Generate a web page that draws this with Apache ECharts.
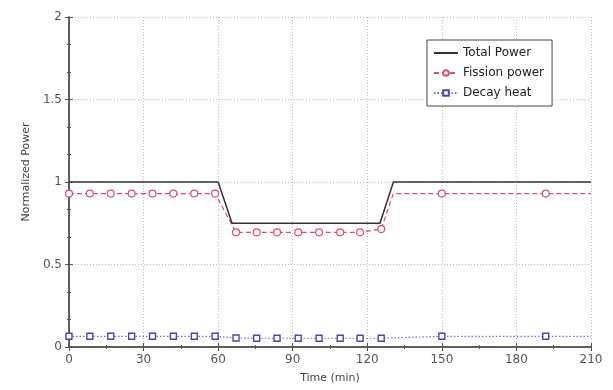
<!DOCTYPE html>
<html>
<head>
<meta charset="utf-8">
<script src="https://cdn.jsdelivr.net/npm/echarts@6/dist/echarts.min.js"></script>
<style>html,body{margin:0;padding:0;background:#fff}#c{width:613px;height:390px}</style>
</head>
<body>
<div id="c"></div>
<script>
// Total power: step vertices [time, value]
const totalTime = [0, 60, 65.6, 125.1, 130.5, 210];
const totalVal  = [1, 1, 0.75, 0.75, 1, 1];

// Fission power: [time, value, hasMarker]
const fissionTime = [0, 8.4, 16.8, 25.2, 33.6, 42, 50.4, 58.8, 67.2, 75.5, 83.7, 92.2, 100.6, 109.1, 117.1, 125.6, 130.5, 150, 191.8, 210];
const fissionVal  = [0.93, 0.93, 0.93, 0.93, 0.93, 0.93, 0.93, 0.93, 0.695, 0.695, 0.695, 0.695, 0.695, 0.695, 0.695, 0.715, 0.93, 0.93, 0.93, 0.93];
const fissionMark = [1,1,1,1,1,1,1,1,1,1,1,1,1,1,1,1,0,1,1,0];

// Decay heat
const decayTime = [0, 8.4, 16.8, 25.2, 33.6, 42, 50.4, 58.8, 67.2, 75.5, 83.7, 92.2, 100.6, 109.1, 117.1, 125.6, 150, 191.8, 210];
const decayVal  = [0.065, 0.065, 0.065, 0.065, 0.065, 0.065, 0.065, 0.065, 0.055, 0.053, 0.053, 0.053, 0.053, 0.053, 0.053, 0.053, 0.065, 0.065, 0.065];
const decayMark = [1,1,1,1,1,1,1,1,1,1,1,1,1,1,1,1,1,1,0];

const xTicks = [0, 30, 60, 90, 120, 150, 180, 210];
const yTicks = [0, 0.5, 1, 1.5, 2];

function pts(t, v, m) {
  return t.map((x, i) => m && !m[i] ? { value: [x, v[i]], symbol: 'none' } : [x, v[i]]);
}

const axisCol = '#555';
const font = 'DejaVu Sans';
const tickStyle = { show: true, inside: true, length: 4, lineStyle: { color: axisCol, width: 1 } };
const minorStyle = { show: true, length: 2, lineStyle: { color: axisCol, width: 1 } };

const chart = echarts.init(document.getElementById('c'));
chart.setOption({
  animation: false,
  backgroundColor: '#fff',
  grid: { left: 69, right: 22, top: 17, bottom: 43 },
  legend: {
    orient: 'vertical',
    left: 427, top: 40,
    backgroundColor: '#fff',
    borderColor: '#444', borderWidth: 1,
    padding: [7, 8, 7, 6],
    itemGap: 8, itemWidth: 24, itemHeight: 7,
    textStyle: { fontFamily: font, fontSize: 12, color: '#222' },
    data: [{ name: 'Total Power', itemStyle: { opacity: 0 } }, 'Fission power', 'Decay heat']
  },
  xAxis: [{
    type: 'value', min: 0, max: 210, interval: 30,
    name: 'Time (min)', nameLocation: 'middle', nameGap: 26,
    nameTextStyle: { fontFamily: font, fontSize: 11, color: '#444' },
    axisLine: { show: true, lineStyle: { color: axisCol, width: 1.5 } },
    axisTick: tickStyle, minorTick: Object.assign({ splitNumber: 2 }, minorStyle),
    axisLabel: { fontFamily: font, fontSize: 12, color: '#555', margin: 7,
      formatter: v => xTicks.includes(v) ? String(v) : '' },
    splitLine: { show: true, lineStyle: { color: '#bbb', type: [1, 2], width: 1 } }
  }, {
    type: 'value', position: 'top', min: 0, max: 210, interval: 30,
    axisLine: { show: true, lineStyle: { color: axisCol, width: 1.5 } },
    axisTick: tickStyle, minorTick: Object.assign({ splitNumber: 2 }, minorStyle),
    axisLabel: { show: false }, splitLine: { show: false }
  }],
  yAxis: [{
    type: 'value', min: 0, max: 2, interval: 0.5,
    name: 'Normalized Power', nameLocation: 'middle', nameGap: 32, nameRotate: 90,
    nameTextStyle: { fontFamily: font, fontSize: 11, color: '#444', padding: [0, 0, 0, 20] },
    axisLine: { show: true, lineStyle: { color: axisCol, width: 1.5 } },
    axisTick: tickStyle, minorTick: Object.assign({ splitNumber: 3 }, minorStyle),
    axisLabel: { fontFamily: font, fontSize: 12, color: '#555', margin: 7,
      formatter: v => yTicks.includes(v) ? String(v) : '' },
    splitLine: { show: true, lineStyle: { color: '#bbb', type: [1, 2], width: 1 } }
  }, {
    type: 'value', position: 'right', min: 0, max: 2, interval: 0.5,
    axisLine: { show: true, lineStyle: { color: axisCol, width: 1.5 } },
    axisTick: tickStyle, minorTick: Object.assign({ splitNumber: 3 }, minorStyle),
    axisLabel: { show: false }, splitLine: { show: false }
  }],
  series: [{
    name: 'Total Power', type: 'line', symbol: 'none',
    lineStyle: { color: '#333', width: 1.5 }, itemStyle: { color: '#333' },
    data: pts(totalTime, totalVal), z: 3
  }, {
    name: 'Fission power', type: 'line', symbol: 'circle', symbolSize: 7,
    lineStyle: { color: '#d8506e', width: 1.2, type: [5, 3] },
    itemStyle: { color: '#fff', borderColor: '#d8506e', borderWidth: 1.2 },
    data: pts(fissionTime, fissionVal, fissionMark), z: 2
  }, {
    name: 'Decay heat', type: 'line', symbol: 'rect', symbolSize: 6,
    lineStyle: { color: '#7070c0', width: 1.2, type: [1.5, 2] },
    itemStyle: { color: '#fff', borderColor: '#4848a0', borderWidth: 1.4 },
    data: pts(decayTime, decayVal, decayMark), z: 2
  }]
});
</script>
</body>
</html>
